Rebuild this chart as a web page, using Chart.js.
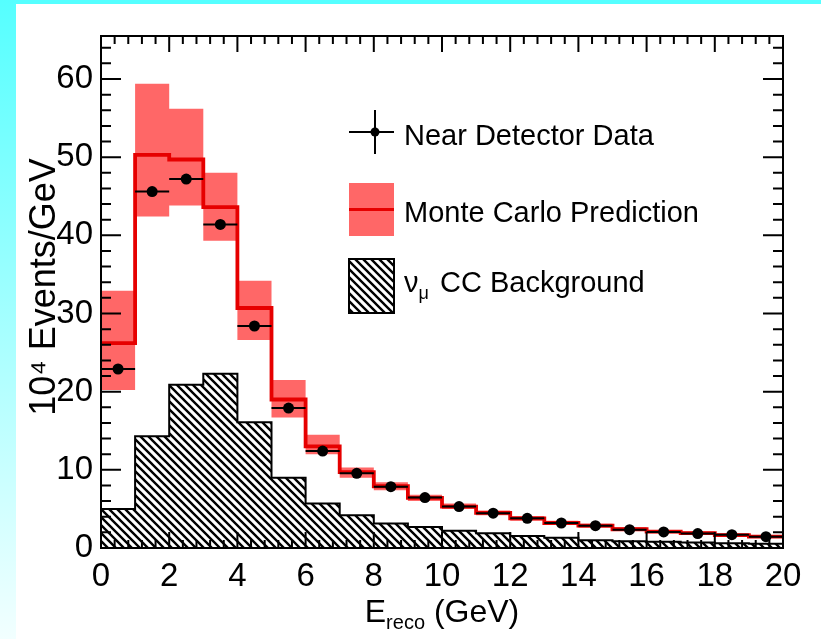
<!DOCTYPE html>
<html>
<head>
<meta charset="utf-8">
<script src="https://cdn.jsdelivr.net/npm/chart.js@4.4.1/dist/chart.umd.min.js"></script>
<style>
  html, body { margin: 0; padding: 0; background: #fff; }
  #wrap { position: relative; width: 821px; height: 639px; overflow: hidden; }
  #topband { position: absolute; left: 0; top: 0; width: 821px; height: 4px; background: #55ffff; }
  #leftband { position: absolute; left: 0; top: 0; width: 16px; height: 639px; background: linear-gradient(#55ffff, #f2ffff); }
  canvas { position: absolute; left: 0; top: 0; }
</style>
</head>
<body>
<div id="wrap">
  <div id="topband"></div>
  <div id="leftband"></div>
  <canvas id="chart" width="821" height="639"></canvas>
</div>
<script>
// bins in GeV
const binEdges = [0, 1, 2, 3, 4, 5, 6, 7, 8, 9, 10, 11, 12, 13, 14, 15, 16, 17, 18, 19, 20];
const binCenters = [0.5, 1.5, 2.5, 3.5, 4.5, 5.5, 6.5, 7.5, 8.5, 9.5, 10.5, 11.5, 12.5, 13.5, 14.5, 15.5, 16.5, 17.5, 18.5, 19.5];

// 10^4 events / GeV
const nearData     = [22.9, 45.6, 47.2, 41.4, 28.4, 17.9, 12.4, 9.55, 7.85, 6.45, 5.3, 4.45, 3.8, 3.2, 2.85, 2.35, 2.05, 1.85, 1.7, 1.45];
const mcPrediction = [26.2, 50.3, 49.7, 43.6, 30.7, 19.0, 13.0, 9.7, 7.9, 6.4, 5.3, 4.5, 3.8, 3.2, 2.85, 2.4, 2.1, 1.9, 1.65, 1.45];
const mcUpper      = [32.9, 59.4, 56.2, 48.0, 34.2, 21.5, 14.5, 10.3, 8.4, 6.8, 5.7, 4.8, 4.1, 3.5, 3.1, 2.65, 2.3, 2.1, 1.85, 1.65];
const mcLower      = [20.2, 42.4, 43.8, 39.3, 26.6, 16.7, 12.0, 9.0, 7.4, 6.0, 5.0, 4.2, 3.5, 3.0, 2.6, 2.2, 1.9, 1.7, 1.5, 1.3];
const ccBackground = [5.0, 14.3, 20.9, 22.3, 16.1, 9.0, 5.7, 4.2, 3.15, 2.7, 2.2, 1.9, 1.55, 1.3, 1.0, 0.85, 0.8, 0.7, 0.6, 0.55];

const legendLabels = ["Near Detector Data", "Monte Carlo Prediction", "CC Background"];

const FONT = "'Liberation Sans', Arial, Helvetica, sans-serif";
const bandColor = '#ff6767';
const lineColor = '#e60000';

function histPoints(values) {
    let pts = values.map((v, i) => ({x: binEdges[i], y: v}));
    pts.push({x: binEdges[values.length], y: values[values.length - 1]});
    return pts;
}

function errorBars(values) {
    let pts = [];
    values.forEach((v, i) => {
        pts.push({x: binEdges[i], y: v});
        pts.push({x: binEdges[i + 1], y: v});
        pts.push({x: binEdges[i + 1], y: null});
    });
    return pts;
}

function makeHatch(ctx) {
    const n = 8;
    const c = document.createElement('canvas');
    c.width = n;
    c.height = n;
    const g = c.getContext('2d');
    g.fillStyle = '#fff';
    g.fillRect(0, 0, n, n);
    g.strokeStyle = '#000';
    g.lineWidth = 2.4;
    g.beginPath();
    for (let s = -n; s <= n; s += n) {
        g.moveTo(s - 1, -1);
        g.lineTo(s + n + 1, n + 1);
    }
    g.stroke();
    return ctx.createPattern(c, 'repeat');
}

// ROOT style frame with inward ticks on all sides
const framePlugin = {
    id: 'frame',
    afterDatasetsDraw(chart) {
        const {ctx, chartArea: a, scales: {x, y}} = chart;
        ctx.save();
        ctx.strokeStyle = '#000';
        ctx.lineWidth = 2;
        ctx.beginPath();
        for (let i = 0; i <= 50; i++) {
            const px = x.getPixelForValue(i * 0.4);
            const len = i % 5 === 0 ? 16 : 8;
            ctx.moveTo(px, a.bottom);
            ctx.lineTo(px, a.bottom - len);
            ctx.moveTo(px, a.top);
            ctx.lineTo(px, a.top + len);
        }
        for (let i = 0; i * 2 <= y.max; i++) {
            const py = y.getPixelForValue(i * 2);
            const len = i % 5 === 0 ? 20 : 10;
            ctx.moveTo(a.left, py);
            ctx.lineTo(a.left + len, py);
            ctx.moveTo(a.right, py);
            ctx.lineTo(a.right - len, py);
        }
        ctx.stroke();
        ctx.strokeRect(a.left, a.top, a.width, a.height);
        ctx.restore();
    },
    afterDraw(chart) {
        const {ctx, chartArea: a} = chart;
        ctx.save();
        ctx.fillStyle = '#000';

        // y title
        ctx.save();
        ctx.translate(55, (a.top + a.bottom) / 2 - 5);
        ctx.rotate(-Math.PI / 2);
        ctx.font = '36px ' + FONT;
        ctx.textAlign = 'center';
        ctx.textBaseline = 'alphabetic';
        ctx.fillText('10\u2074 Events/GeV', 0, 0);
        ctx.restore();

        // x title with subscript
        const big = '32px ' + FONT, small = '20px ' + FONT;
        ctx.font = big;
        const wE = ctx.measureText('E').width;
        const wG = ctx.measureText(' (GeV)').width;
        ctx.font = small;
        const wR = ctx.measureText('reco').width;
        let tx = (a.left + a.right) / 2 - (wE + wR + wG) / 2;
        const ty = 622;
        ctx.textAlign = 'left';
        ctx.font = big;
        ctx.fillText('E', tx, ty);
        ctx.font = small;
        ctx.fillText('reco', tx + wE, ty + 7);
        ctx.font = big;
        ctx.fillText(' (GeV)', tx + wE + wR, ty);

        // legend
        ctx.font = '29px ' + FONT;
        ctx.fillText(legendLabels[0], 404, 145);
        ctx.fillText(legendLabels[1], 404, 222);
        ctx.fillText('\u03bd', 404, 292);
        const wNu = ctx.measureText('\u03bd').width;
        ctx.font = '18px ' + FONT;
        ctx.fillText('\u03bc', 404 + wNu, 299);
        ctx.font = '29px ' + FONT;
        ctx.fillText(legendLabels[2], 440, 292);

        ctx.strokeStyle = '#000';
        ctx.lineWidth = 2;
        ctx.beginPath();
        ctx.moveTo(349, 132); ctx.lineTo(394, 132);
        ctx.moveTo(375, 110); ctx.lineTo(375, 154);
        ctx.stroke();
        ctx.beginPath();
        ctx.arc(375, 132, 4.5, 0, Math.PI * 2);
        ctx.fill();

        ctx.fillStyle = bandColor;
        ctx.fillRect(349, 183, 45, 53);
        ctx.strokeStyle = lineColor;
        ctx.lineWidth = 3;
        ctx.beginPath();
        ctx.moveTo(349, 209.5); ctx.lineTo(394, 209.5);
        ctx.stroke();

        ctx.fillStyle = makeHatch(ctx);
        ctx.fillRect(349, 259, 45, 54);
        ctx.strokeStyle = '#000';
        ctx.lineWidth = 2;
        ctx.strokeRect(349, 259, 45, 54);
        ctx.restore();
    }
};

const canvas = document.getElementById('chart');
const hatch = makeHatch(canvas.getContext('2d'));

new Chart(canvas, {
    type: 'line',
    data: {
        datasets: [
            {
                data: binCenters.map((c, i) => ({x: c, y: nearData[i]})),
                showLine: false,
                pointRadius: 5.5,
                pointBackgroundColor: '#000',
                pointBorderWidth: 0,
                order: 0
            },
            {
                data: errorBars(nearData),
                borderColor: '#000',
                borderWidth: 2,
                pointRadius: 0,
                spanGaps: false,
                order: 1
            },
            {
                data: histPoints(mcPrediction),
                stepped: true,
                borderColor: lineColor,
                borderWidth: 3.8,
                pointRadius: 0,
                fill: false,
                order: 2
            },
            {
                data: histPoints(mcUpper),
                stepped: true,
                borderColor: 'rgba(0,0,0,0)',
                borderWidth: 0,
                backgroundColor: bandColor,
                pointRadius: 0,
                fill: '+1',
                order: 3
            },
            {
                data: histPoints(mcLower),
                stepped: true,
                borderColor: 'rgba(0,0,0,0)',
                borderWidth: 0,
                pointRadius: 0,
                fill: false,
                order: 4
            },
            {
                data: histPoints(ccBackground),
                stepped: true,
                borderColor: '#000',
                borderWidth: 2,
                backgroundColor: hatch,
                pointRadius: 0,
                fill: 'origin',
                order: 5
            }
        ]
    },
    options: {
        responsive: false,
        animation: false,
        layout: {padding: {top: 36, right: 38, left: 0, bottom: 0}},
        plugins: {
            legend: {display: false},
            tooltip: {enabled: false}
        },
        scales: {
            x: {
                type: 'linear',
                min: 0,
                max: 20,
                grid: {display: false, drawTicks: false},
                border: {display: false},
                ticks: {
                    stepSize: 2,
                    padding: 9,
                    color: '#000',
                    font: {family: FONT, size: 33}
                },
                afterFit(scale) { scale.height = 91; }
            },
            y: {
                min: 0,
                max: 65.5,
                grid: {display: false, drawTicks: false},
                border: {display: false},
                ticks: {
                    stepSize: 10,
                    includeBounds: false,
                    padding: 8,
                    color: '#000',
                    font: {family: FONT, size: 33}
                },
                afterFit(scale) { scale.width = 101; }
            }
        }
    },
    plugins: [framePlugin]
});
</script>
</body>
</html>
